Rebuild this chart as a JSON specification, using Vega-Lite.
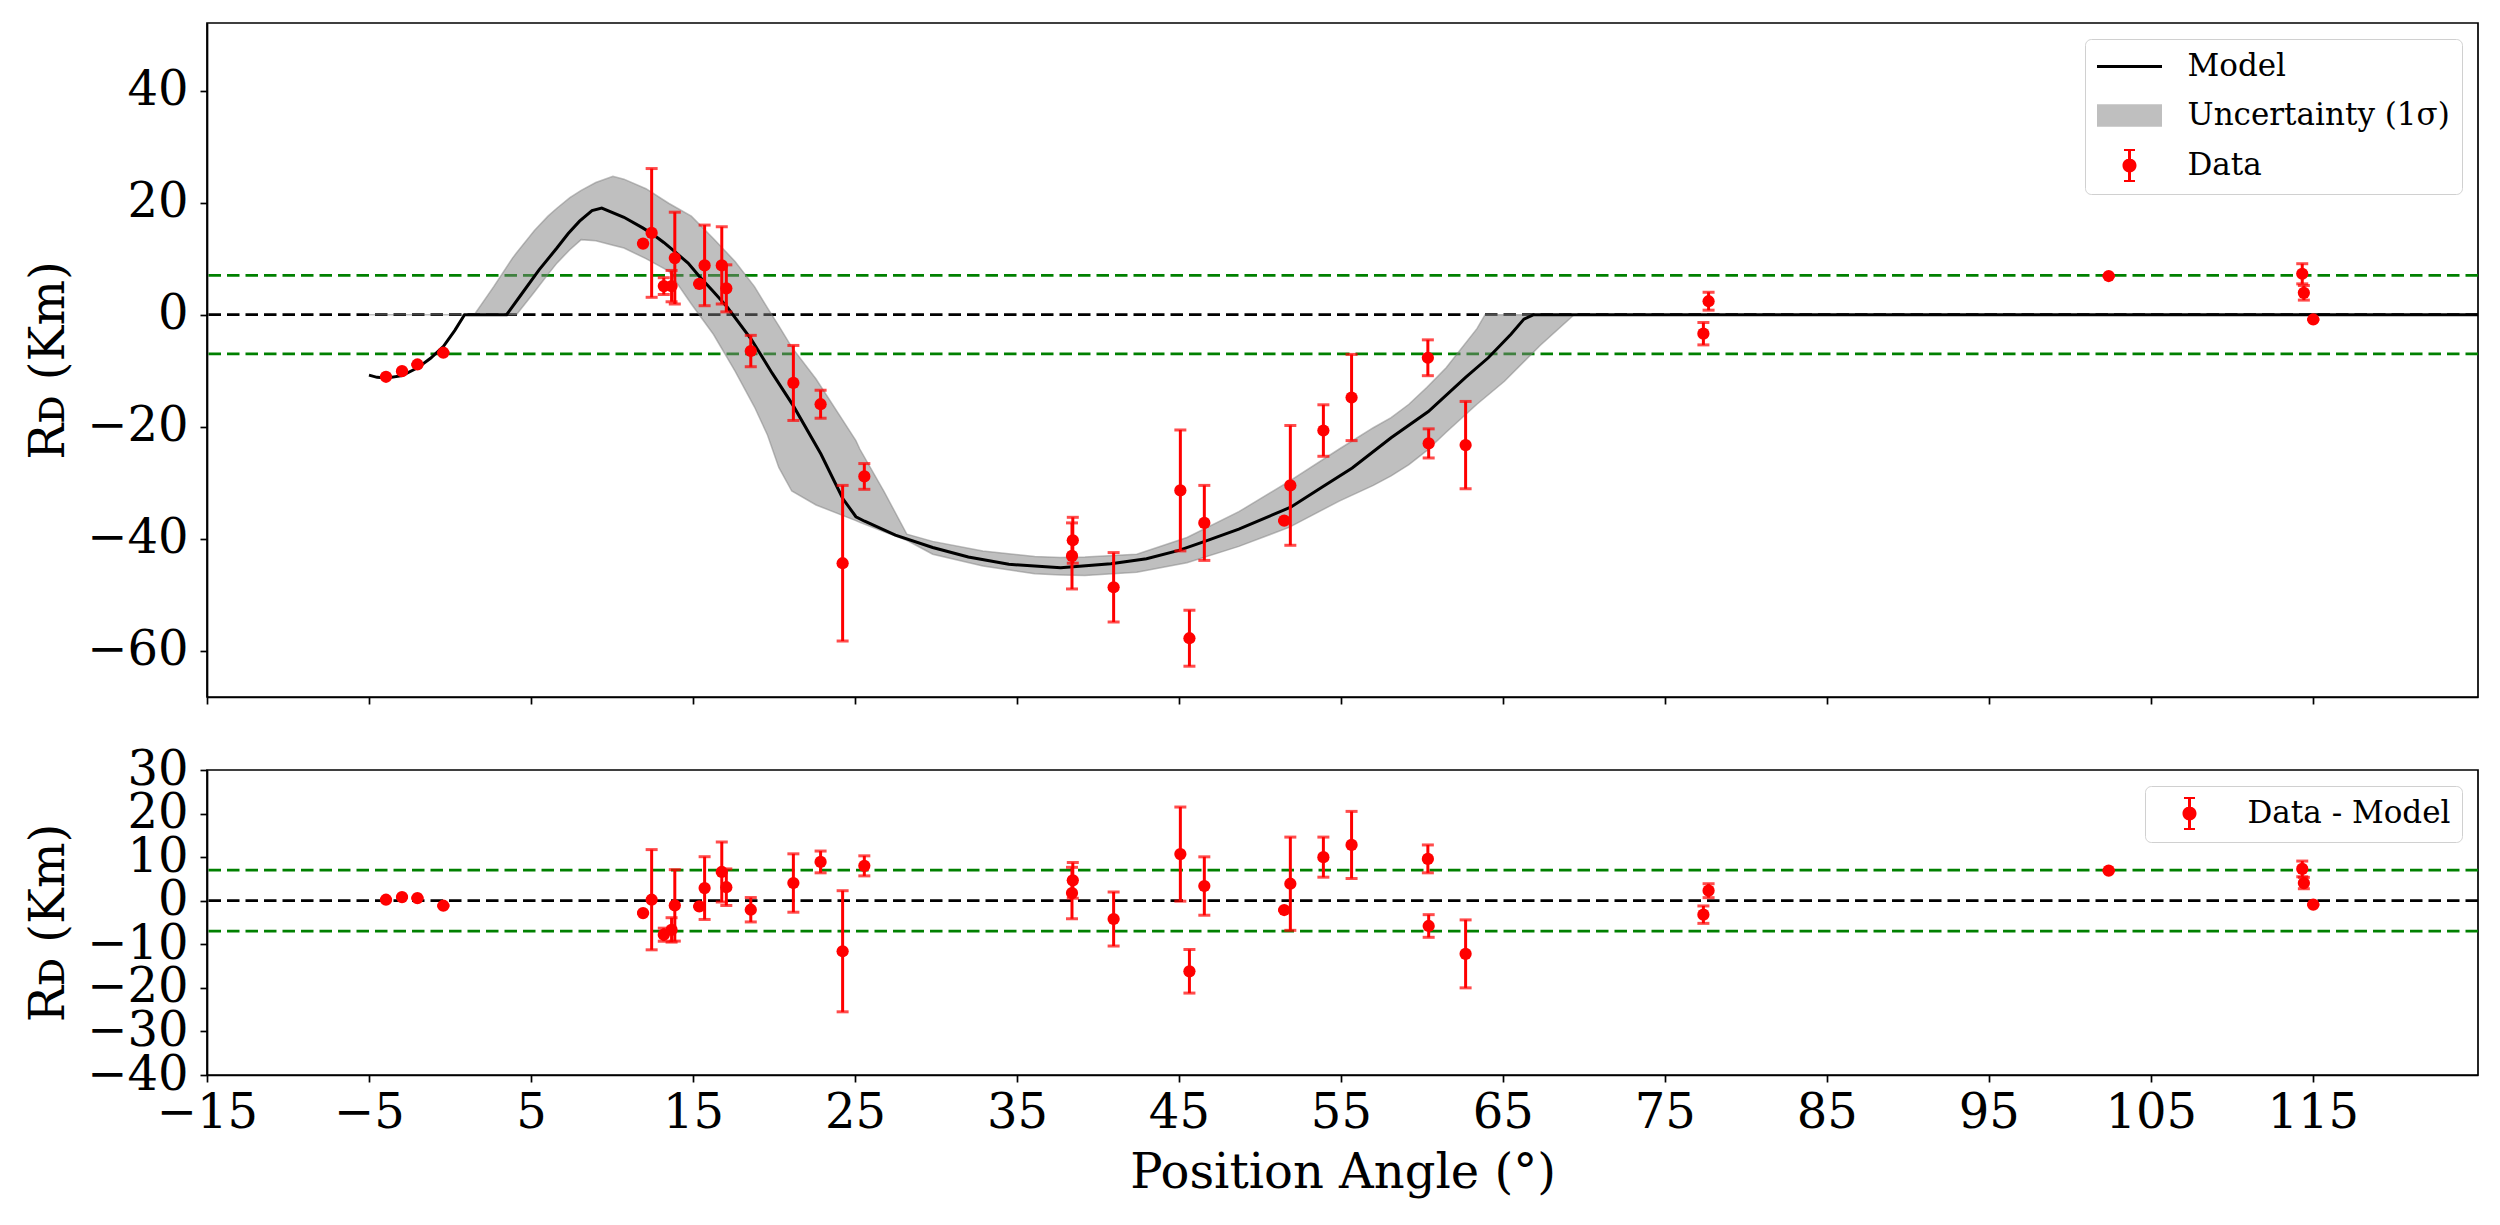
{
  "$schema": "https://vega.github.io/schema/vega-lite/v6.json",
  "background": "white",
  "padding": {"left": 24, "top": 22, "right": 22, "bottom": 10},
  "spacing": 39,
  "config": {
    "font": "DejaVu Serif",
    "view": {"stroke": "black", "strokeWidth": 1.7},
    "axis": {
      "labelFont": "DejaVu Serif", "labelFontSize": 48, "labelColor": "black",
      "titleFont": "DejaVu Serif", "titleFontSize": 48, "titleFontWeight": "normal", "titleColor": "black",
      "tickColor": "black", "tickSize": 7, "tickWidth": 1.7,
      "domainColor": "black", "domainWidth": 1.7, "grid": false,
      "labelOverlap": false, "labelFlush": false, "labelBound": false
    },
    "axisX": {"labelPadding": 7, "titlePadding": 12},
    "axisY": {"labelPadding": 12, "titlePadding": 13},
    "legend": {
      "orient": "top-right", "offset": 16, "padding": 11.5,
      "strokeColor": "#d0d0d0", "fillColor": "white", "cornerRadius": 6,
      "labelFont": "DejaVu Serif", "labelFontSize": 31, "labelColor": "black",
      "labelOffset": 42, "rowPadding": 18, "symbolSize": 900, "symbolOffset": 17,
      "labelLimit": 500, "symbolOpacity": 1
    }
  },
  "datasets": {
    "obs": [
      {"pa": -3.95, "rd": -11.1, "res": 0.23, "err": 0},
      {"pa": -2.96, "rd": -10.1, "res": 0.84, "err": 0},
      {"pa": -2.01, "rd": -8.9, "res": 0.61, "err": 0},
      {"pa": -0.41, "rd": -6.8, "res": -1.15, "err": 0},
      {"pa": 11.92, "rd": 12.7, "res": -2.83, "err": 0},
      {"pa": 12.45, "rd": 14.6, "res": 0.23, "err": 11.5},
      {"pa": 13.2, "rd": 5.1, "res": -7.8, "err": 1.5},
      {"pa": 13.68, "rd": 5.1, "res": -6.7, "err": 2.8},
      {"pa": 13.88, "rd": 10.1, "res": -1.07, "err": 8.2},
      {"pa": 15.39, "rd": 5.5, "res": -1.3, "err": 0},
      {"pa": 15.72, "rd": 8.8, "res": 2.9, "err": 7.2},
      {"pa": 16.78, "rd": 8.8, "res": 6.6, "err": 6.9},
      {"pa": 17.06, "rd": 4.7, "res": 3.1, "err": 4.2},
      {"pa": 18.57, "rd": -6.5, "res": -2.07, "err": 2.8},
      {"pa": 21.2, "rd": -12.2, "res": 4.06, "err": 6.7},
      {"pa": 22.88, "rd": -16.0, "res": 8.9, "err": 2.5},
      {"pa": 24.24, "rd": -44.4, "res": -11.6, "err": 13.9},
      {"pa": 25.58, "rd": -28.9, "res": 8.0, "err": 2.3},
      {"pa": 38.45, "rd": -40.3, "res": 4.67, "err": 4.1},
      {"pa": 38.4, "rd": -43.1, "res": 1.76, "err": 5.9},
      {"pa": 40.97, "rd": -48.7, "res": -4.2, "err": 6.2},
      {"pa": 45.09, "rd": -31.4, "res": 10.7, "err": 10.8},
      {"pa": 45.65, "rd": -57.8, "res": -16.2, "err": 5.0},
      {"pa": 46.57, "rd": -37.2, "res": 3.37, "err": 6.7},
      {"pa": 51.5, "rd": -36.8, "res": -2.14, "err": 0},
      {"pa": 51.88, "rd": -30.5, "res": 3.9, "err": 10.7},
      {"pa": 53.92, "rd": -20.7, "res": 10.0, "err": 4.6},
      {"pa": 55.66, "rd": -14.8, "res": 12.8, "err": 7.7},
      {"pa": 60.37, "rd": -7.7, "res": 9.6, "err": 3.2},
      {"pa": 60.42, "rd": -23.0, "res": -5.8, "err": 2.6},
      {"pa": 62.7, "rd": -23.3, "res": -12.2, "err": 7.8},
      {"pa": 77.7, "rd": 2.4, "res": 2.3, "err": 1.6},
      {"pa": 77.38, "rd": -3.4, "res": -3.2, "err": 2.0},
      {"pa": 102.4, "rd": 6.9, "res": 6.9, "err": 0},
      {"pa": 114.35, "rd": 7.3, "res": 7.3, "err": 1.8},
      {"pa": 114.45, "rd": 3.9, "res": 4.05, "err": 1.3},
      {"pa": 115.03, "rd": -0.86, "res": -0.9, "err": 0}
    ],
    "model": [
      {"pa": -5.0, "rd": -10.8}, {"pa": -4.5, "rd": -11.2}, {"pa": -3.9, "rd": -11.3},
      {"pa": -2.95, "rd": -10.9}, {"pa": -2.0, "rd": -9.5}, {"pa": -1.2, "rd": -7.8},
      {"pa": -0.4, "rd": -5.65}, {"pa": 0.3, "rd": -2.8}, {"pa": 0.9, "rd": 0},
      {"pa": 3.5, "rd": 0}, {"pa": 4.4, "rd": 3.6}, {"pa": 5.5, "rd": 8.0},
      {"pa": 6.6, "rd": 11.9}, {"pa": 7.3, "rd": 14.5}, {"pa": 8.0, "rd": 16.7},
      {"pa": 8.77, "rd": 18.6}, {"pa": 9.37, "rd": 19.05}, {"pa": 10.74, "rd": 17.4},
      {"pa": 11.9, "rd": 15.5}, {"pa": 12.5, "rd": 14.4}, {"pa": 13.2, "rd": 12.9},
      {"pa": 13.9, "rd": 11.2}, {"pa": 14.7, "rd": 9.2}, {"pa": 15.4, "rd": 6.8},
      {"pa": 16.2, "rd": 4.3}, {"pa": 17.1, "rd": 1.4}, {"pa": 18.6, "rd": -4.4},
      {"pa": 19.9, "rd": -10.5}, {"pa": 21.2, "rd": -16.3}, {"pa": 22.9, "rd": -24.9},
      {"pa": 24.24, "rd": -32.8}, {"pa": 25.06, "rd": -36.1}, {"pa": 25.6, "rd": -36.9},
      {"pa": 27.5, "rd": -39.4}, {"pa": 29.8, "rd": -41.6}, {"pa": 32.0, "rd": -43.3},
      {"pa": 34.5, "rd": -44.6}, {"pa": 37.7, "rd": -45.2}, {"pa": 40.8, "rd": -44.5},
      {"pa": 43.0, "rd": -43.6}, {"pa": 45.0, "rd": -42.1}, {"pa": 46.6, "rd": -40.5},
      {"pa": 48.7, "rd": -38.3}, {"pa": 51.9, "rd": -34.4}, {"pa": 53.9, "rd": -30.7},
      {"pa": 55.7, "rd": -27.4}, {"pa": 58.1, "rd": -22.0}, {"pa": 60.4, "rd": -17.3},
      {"pa": 62.7, "rd": -11.2}, {"pa": 64.1, "rd": -7.7}, {"pa": 65.5, "rd": -3.5},
      {"pa": 66.3, "rd": -0.8}, {"pa": 66.9, "rd": 0}, {"pa": 125.2, "rd": 0}
    ],
    "band": [
      {"pa": -5.0, "lo": 0, "hi": 0}, {"pa": 1.5, "lo": 0, "hi": 0},
      {"pa": 2.7, "lo": 0, "hi": 5.0}, {"pa": 3.86, "lo": 0, "hi": 10.1},
      {"pa": 4.1, "lo": 0, "hi": 11.0}, {"pa": 5.2, "lo": 4.0, "hi": 15.0},
      {"pa": 6.05, "lo": 7.2, "hi": 17.6}, {"pa": 6.6, "lo": 9.2, "hi": 19.0},
      {"pa": 7.4, "lo": 11.6, "hi": 20.9}, {"pa": 8.1, "lo": 13.4, "hi": 22.2},
      {"pa": 9.0, "lo": 13.2, "hi": 23.6}, {"pa": 10.06, "lo": 12.4, "hi": 24.7},
      {"pa": 10.74, "lo": 11.9, "hi": 24.2}, {"pa": 12.1, "lo": 10.0, "hi": 22.5},
      {"pa": 13.5, "lo": 7.8, "hi": 19.9}, {"pa": 14.9, "lo": 1.9, "hi": 17.6},
      {"pa": 16.26, "lo": -3.5, "hi": 13.6}, {"pa": 17.6, "lo": -10.1, "hi": 9.5},
      {"pa": 18.8, "lo": -16.5, "hi": 5.0}, {"pa": 19.6, "lo": -21.5, "hi": 1.2},
      {"pa": 20.3, "lo": -27.3, "hi": -2.0}, {"pa": 21.1, "lo": -31.5, "hi": -5.8},
      {"pa": 22.6, "lo": -34.0, "hi": -11.5}, {"pa": 25.06, "lo": -36.8, "hi": -22.5},
      {"pa": 25.3, "lo": -37.1, "hi": -24.0}, {"pa": 26.8, "lo": -38.8, "hi": -31.6},
      {"pa": 28.2, "lo": -40.3, "hi": -39.2}, {"pa": 29.8, "lo": -42.8, "hi": -40.5},
      {"pa": 32.9, "lo": -44.9, "hi": -42.2}, {"pa": 36.1, "lo": -46.3, "hi": -43.2},
      {"pa": 37.7, "lo": -46.5, "hi": -43.4}, {"pa": 39.2, "lo": -46.6, "hi": -43.3},
      {"pa": 42.4, "lo": -46.0, "hi": -42.8}, {"pa": 45.5, "lo": -44.3, "hi": -39.8},
      {"pa": 48.7, "lo": -41.4, "hi": -35.2}, {"pa": 51.8, "lo": -38.0, "hi": -29.8},
      {"pa": 54.9, "lo": -33.3, "hi": -24.0}, {"pa": 57.0, "lo": -30.5, "hi": -20.2},
      {"pa": 58.1, "lo": -28.8, "hi": -18.4}, {"pa": 59.2, "lo": -26.8, "hi": -16.0},
      {"pa": 60.3, "lo": -24.3, "hi": -13.0}, {"pa": 61.5, "lo": -21.0, "hi": -9.5},
      {"pa": 63.4, "lo": -16.0, "hi": -2.5}, {"pa": 63.9, "lo": -14.8, "hi": 0},
      {"pa": 65.1, "lo": -11.9, "hi": 0}, {"pa": 67.3, "lo": -5.5, "hi": 0},
      {"pa": 69.4, "lo": 0, "hi": 0}, {"pa": 125.2, "lo": 0, "hi": 0}
    ],
    "refs": [{"level": 0}, {"level": 7}, {"level": -7}]
  },
  "resolve": {"scale": {"color": "independent"}, "legend": {"color": "independent"}},
  "vconcat": [
    {
      "width": 2271,
      "height": 674,
      "layer": [
        {
          "data": {"name": "refs"},
          "mark": {"type": "rule", "strokeWidth": 2.8, "strokeDash": [12.5, 6]},
          "encoding": {
            "y": {"field": "level", "type": "quantitative",
                  "scale": {"domain": [-68.3, 52.1], "nice": false, "zero": false},
                  "axis": {"values": [-60, -40, -20, 0, 20, 40], "title": "Rᴅ (Km)"}},
            "color": {"condition": {"test": "datum.level == 0", "value": "black"}, "value": "#008000"}
          }
        },
        {
          "data": {"name": "band"},
          "mark": {"type": "area", "fill": "#808080", "fillOpacity": 0.5, "stroke": "#808080", "strokeOpacity": 0.5, "strokeWidth": 1.5, "clip": true},
          "encoding": {
            "x": {"field": "pa", "type": "quantitative",
                  "scale": {"domain": [-15, 125.2], "nice": false, "zero": false},
                  "axis": {"values": [-15, -5, 5, 15, 25, 35, 45, 55, 65, 75, 85, 95, 105, 115], "labels": false, "title": null}},
            "y": {"field": "lo", "type": "quantitative", "scale": {"domain": [-68.3, 52.1], "nice": false, "zero": false},
                  "axis": {"values": [-60, -40, -20, 0, 20, 40], "title": "Rᴅ (Km)"}},
            "y2": {"field": "hi"}
          }
        },
        {
          "data": {"name": "model"},
          "mark": {"type": "line", "color": "black", "strokeWidth": 3, "clip": true},
          "encoding": {
            "x": {"field": "pa", "type": "quantitative", "scale": {"domain": [-15, 125.2], "nice": false, "zero": false},
                  "axis": {"values": [-15, -5, 5, 15, 25, 35, 45, 55, 65, 75, 85, 95, 105, 115], "labels": false, "title": null}},
            "y": {"field": "rd", "type": "quantitative", "scale": {"domain": [-68.3, 52.1], "nice": false, "zero": false},
                  "axis": {"values": [-60, -40, -20, 0, 20, 40], "title": "Rᴅ (Km)"}}
          }
        },
        {
          "data": {"name": "obs"},
          "mark": {"type": "errorbar", "color": "red", "thickness": 3, "size": 12, "ticks": true},
          "encoding": {
            "x": {"field": "pa", "type": "quantitative", "scale": {"domain": [-15, 125.2], "nice": false, "zero": false},
                  "axis": {"values": [-15, -5, 5, 15, 25, 35, 45, 55, 65, 75, 85, 95, 105, 115], "labels": false, "title": null}},
            "y": {"field": "rd", "type": "quantitative", "scale": {"domain": [-68.3, 52.1], "nice": false, "zero": false},
                  "axis": {"values": [-60, -40, -20, 0, 20, 40], "title": "Rᴅ (Km)"}},
            "yError": {"field": "err"}
          }
        },
        {
          "data": {"name": "obs"},
          "mark": {"type": "point", "filled": true, "size": 150, "opacity": 1, "shape": "circle"},
          "encoding": {
            "x": {"field": "pa", "type": "quantitative", "scale": {"domain": [-15, 125.2], "nice": false, "zero": false},
                  "axis": {"values": [-15, -5, 5, 15, 25, 35, 45, 55, 65, 75, 85, 95, 105, 115], "labels": false, "title": null}},
            "y": {"field": "rd", "type": "quantitative", "scale": {"domain": [-68.3, 52.1], "nice": false, "zero": false},
                  "axis": {"values": [-60, -40, -20, 0, 20, 40], "title": "Rᴅ (Km)"}},
            "color": {
              "datum": "Data", "type": "nominal",
              "scale": {"domain": ["Model", "Uncertainty (1σ)", "Data"], "range": ["black", "#bfbfbf", "red"]},
              "legend": {
                "title": null,
                "symbolType": {"expr": "datum.value === 'Model' ? 'M-2.167,-0.1L2.167,-0.1L2.167,0.1L-2.167,0.1Z' : datum.value === 'Data' ? 'M-0.1,-1.1L0.1,-1.1L0.1,1.1L-0.1,1.1Z M-0.367,-1.1L0.367,-1.1L0.367,-0.967L-0.367,-0.967Z M-0.367,0.967L0.367,0.967L0.367,1.1L-0.367,1.1Z M-0.467,0A0.467,0.467 0 1,1 0.467,0A0.467,0.467 0 1,1 -0.467,0Z' : 'M-2.167,-0.75L2.167,-0.75L2.167,0.75L-2.167,0.75Z'"}
              }
            }
          }
        }
      ]
    },
    {
      "width": 2271,
      "height": 305,
      "layer": [
        {
          "data": {"name": "refs"},
          "mark": {"type": "rule", "strokeWidth": 2.8, "strokeDash": [12.5, 6]},
          "encoding": {
            "y": {"field": "level", "type": "quantitative",
                  "scale": {"domain": [-40, 30], "nice": false, "zero": false},
                  "axis": {"values": [-40, -30, -20, -10, 0, 10, 20, 30], "title": "Rᴅ (Km)"}},
            "color": {"condition": {"test": "datum.level == 0", "value": "black"}, "value": "#008000"}
          }
        },
        {
          "data": {"name": "obs"},
          "mark": {"type": "errorbar", "color": "red", "thickness": 3, "size": 12, "ticks": true},
          "encoding": {
            "x": {"field": "pa", "type": "quantitative",
                  "scale": {"domain": [-15, 125.2], "nice": false, "zero": false},
                  "axis": {"values": [-15, -5, 5, 15, 25, 35, 45, 55, 65, 75, 85, 95, 105, 115], "title": "Position Angle (°)"}},
            "y": {"field": "res", "type": "quantitative", "scale": {"domain": [-40, 30], "nice": false, "zero": false},
                  "axis": {"values": [-40, -30, -20, -10, 0, 10, 20, 30], "title": "Rᴅ (Km)"}},
            "yError": {"field": "err"}
          }
        },
        {
          "data": {"name": "obs"},
          "mark": {"type": "point", "filled": true, "size": 150, "opacity": 1, "shape": "circle"},
          "encoding": {
            "x": {"field": "pa", "type": "quantitative", "scale": {"domain": [-15, 125.2], "nice": false, "zero": false},
                  "axis": {"values": [-15, -5, 5, 15, 25, 35, 45, 55, 65, 75, 85, 95, 105, 115], "title": "Position Angle (°)"}},
            "y": {"field": "res", "type": "quantitative", "scale": {"domain": [-40, 30], "nice": false, "zero": false},
                  "axis": {"values": [-40, -30, -20, -10, 0, 10, 20, 30], "title": "Rᴅ (Km)"}},
            "color": {
              "datum": "Data - Model", "type": "nominal",
              "scale": {"domain": ["Data - Model"], "range": ["red"]},
              "legend": {
                "title": null,
                "symbolType": "M-0.1,-1.1L0.1,-1.1L0.1,1.1L-0.1,1.1Z M-0.367,-1.1L0.367,-1.1L0.367,-0.967L-0.367,-0.967Z M-0.367,0.967L0.367,0.967L0.367,1.1L-0.367,1.1Z M-0.467,0A0.467,0.467 0 1,1 0.467,0A0.467,0.467 0 1,1 -0.467,0Z"
              }
            }
          }
        }
      ]
    }
  ]
}
